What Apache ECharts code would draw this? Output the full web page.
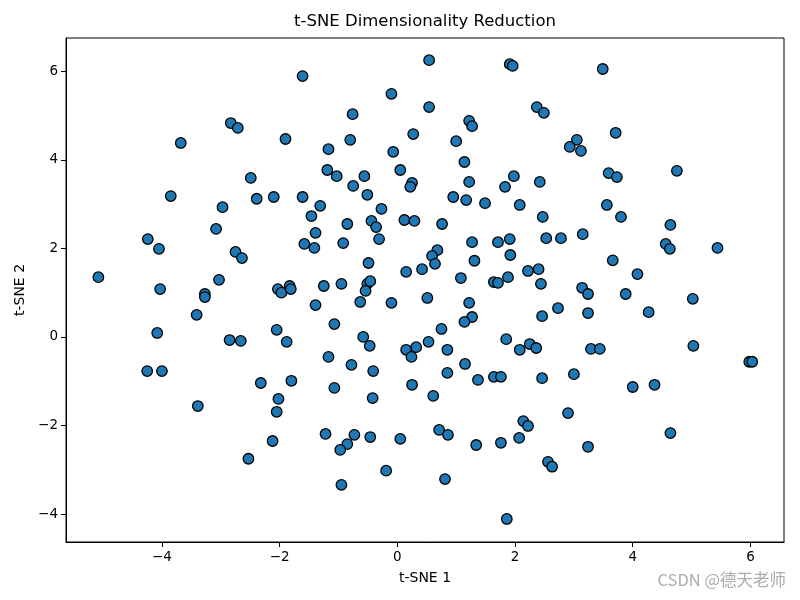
<!DOCTYPE html>
<html>
<head>
<meta charset="utf-8">
<script src="https://cdn.jsdelivr.net/npm/echarts@6/dist/echarts.min.js"></script>
<style>html,body{margin:0;padding:0;background:#fff;}#c{width:800px;height:600px;}</style>
</head>
<body>
<div id="c"></div>
<script>
const tsneX = [0.54,1.91,1.96,3.49,-1.61,-0.10,0.54,2.37,2.49,-0.76,-2.83,-2.71,1.22,1.27,3.71,-1.90,0.27,-0.80,-1.17,-0.07,
0.05,-1.19,-1.03,-0.56,0.25,0.22,-0.75,-0.51,-2.49,-2.39,-2.10,-1.61,-1.31,-0.27,-3.68,-3.85,-2.97,1.00,3.05,2.93,
3.12,1.14,3.59,3.73,1.98,1.22,1.83,2.42,0.95,1.17,1.49,2.08,3.56,4.75,-3.08,-4.24,-4.05,-2.75,-2.64,-5.08,
-3.03,-4.03,-3.27,-3.27,-3.41,-4.08,-2.85,-2.66,-4.25,-4.00,-1.46,-0.85,-0.44,-0.36,0.12,0.29,-1.39,-1.58,-1.41,-0.92,
-0.31,-0.49,0.15,0.42,-2.03,-1.97,-1.83,-1.81,-1.25,-0.95,-0.51,-0.46,-0.54,0.51,-1.39,-0.63,-0.10,-1.07,-2.05,-1.88,
-0.58,-0.47,0.53,0.15,0.32,0.24,-1.17,-0.78,-0.41,2.47,0.76,1.27,1.71,1.91,2.53,2.78,3.15,0.68,0.59,0.64,
1.31,1.92,3.66,1.08,1.88,1.64,1.71,2.22,2.40,2.44,3.14,3.24,1.22,2.73,2.46,3.24,1.27,1.14,0.75,1.85,
0.85,2.25,2.36,2.08,3.29,3.44,1.15,0.85,1.37,1.64,1.76,2.46,3.00,3.80,4.64,4.56,4.63,5.44,4.08,3.88,
5.02,4.27,5.03,5.98,6.03,-3.39,-2.53,-2.32,-1.80,-1.07,-0.42,0.25,0.61,-2.02,-2.05,-2.12,-1.22,-0.73,-0.85,-0.97,
-0.46,0.05,-0.19,-0.95,2.90,2.14,2.22,0.71,0.86,1.34,1.76,2.07,3.24,2.56,2.63,0.81,1.86,4.00,4.37,4.64];
const tsneY = [6.25,6.16,6.12,6.05,5.89,5.49,5.19,5.19,5.06,5.03,4.83,4.72,4.88,4.76,4.61,4.47,4.58,4.45,4.24,4.18,
3.77,3.77,3.63,3.63,3.48,3.39,3.41,3.21,3.59,3.12,3.16,3.16,2.96,2.89,4.38,3.18,2.93,4.42,4.45,4.29,
4.20,3.95,3.70,3.61,3.63,3.50,3.39,3.50,3.16,3.09,3.02,2.98,2.98,3.75,2.44,2.21,1.99,1.92,1.78,1.35,
1.29,1.08,0.97,0.90,0.50,0.09,-0.07,-0.09,-0.77,-0.77,2.73,2.55,2.62,2.48,2.64,2.62,2.35,2.10,2.01,2.12,
2.21,1.67,1.47,1.53,1.08,1.00,1.15,1.08,1.15,1.20,1.20,1.26,1.04,0.88,0.72,0.79,0.77,0.29,0.16,-0.11,
0.00,-0.20,-0.11,-0.29,-0.23,-0.45,-0.45,-0.63,-0.77,2.71,2.55,2.14,2.14,2.21,2.23,2.23,2.32,1.96,1.83,1.65,
1.72,1.85,1.73,1.33,1.35,1.24,1.22,1.49,1.53,1.20,1.11,0.97,0.77,0.65,0.47,0.54,0.45,0.34,0.18,-0.05,
-0.29,-0.16,-0.25,-0.29,-0.27,-0.27,-0.61,-0.81,-0.97,-0.90,-0.90,-0.93,-0.84,2.71,2.53,2.10,1.99,2.01,1.42,0.97,
0.86,0.56,-0.20,-0.56,-0.56,-1.56,-2.75,-1.04,-0.99,-1.15,-1.38,-1.08,-1.33,-1.40,-1.69,-2.35,-2.19,-2.21,-2.42,-2.55,
-2.26,-2.30,-3.02,-3.34,-1.72,-1.90,-2.01,-2.10,-2.21,-2.44,-2.39,-2.28,-2.48,-2.82,-2.93,-3.21,-4.11,-1.13,-1.08,-2.17];
const xTicks = [-4, -2, 0, 2, 4, 6];
const yTicks = [-4, -2, 0, 2, 4, 6];
const titleText = 't-SNE Dimensionality Reduction';
const xLabel = 't-SNE 1';
const yLabel = 't-SNE 2';
const watermark = 'CSDN @德天老师';

const points = tsneX.map((x, i) => [x, tsneY[i]]);
const FONT = 'DejaVu Sans';
const fmt = v => String(v).replace('-', '\u2212');
const chart = echarts.init(document.getElementById('c'), null, {renderer: 'canvas'});
const axisCommon = {
  axisLine: {show: true, onZero: false, lineStyle: {color: '#000', width: 1}},
  axisTick: {show: true, inside: false, length: 5, lineStyle: {color: '#000', width: 1}},
  splitLine: {show: false},
  nameLocation: 'middle',
  nameTextStyle: {fontFamily: FONT, fontSize: 14, color: '#000'}
};
chart.setOption({
  animation: false,
  backgroundColor: '#fff',
  title: {
    text: titleText, left: 425, top: 13, textAlign: 'center', padding: 0,
    textStyle: {fontFamily: FONT, fontSize: 16.5, fontWeight: 'normal', color: '#000'}
  },
  grid: {left: 66, right: 16, top: 38, bottom: 58, show: true, borderColor: '#000', borderWidth: 1, backgroundColor: 'transparent'},
  xAxis: Object.assign({}, axisCommon, {
    type: 'value', min: -5.63, max: 6.57, name: xLabel, nameGap: 29,
    axisTick: Object.assign({}, axisCommon.axisTick, {customValues: xTicks}),
    axisLabel: {customValues: xTicks, formatter: fmt, fontFamily: FONT, fontSize: 13.5, color: '#000', margin: 8}
  }),
  yAxis: Object.assign({}, axisCommon, {
    type: 'value', min: -4.63, max: 6.75, name: yLabel, nameGap: 38,
    axisTick: Object.assign({}, axisCommon.axisTick, {customValues: yTicks}),
    axisLabel: {customValues: yTicks, formatter: fmt, fontFamily: FONT, fontSize: 13.5, color: '#000', margin: 8}
  }),
  series: [{
    type: 'scatter',
    data: points,
    symbol: 'circle',
    symbolSize: 10.5,
    itemStyle: {color: '#1f77b4', borderColor: '#000', borderWidth: 1.3, opacity: 1}
  }],
  graphic: [{
    type: 'text', right: 14, top: 571,
    style: {text: watermark, fontFamily: 'Noto Sans CJK SC', fontSize: 16.5, fill: 'rgba(150,150,150,0.8)'}
  }]
});
</script>
</body>
</html>
